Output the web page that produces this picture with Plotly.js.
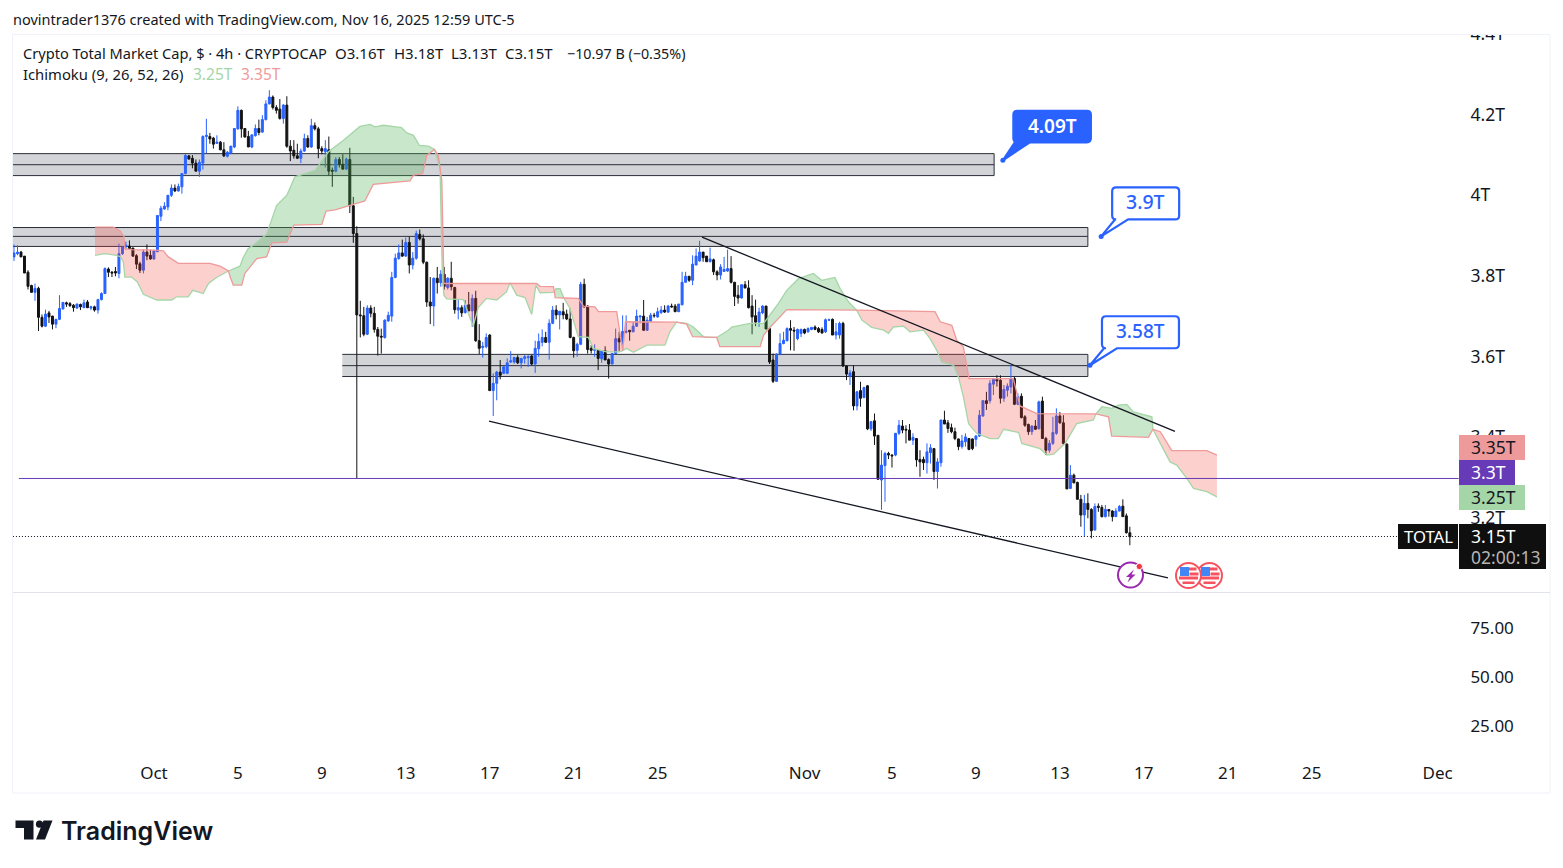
<!DOCTYPE html>
<html><head><meta charset="utf-8">
<script src="https://cdn.plot.ly/plotly-3.0.1.min.js"></script>
<style>html,body{margin:0;padding:0;background:#fff}#c{width:1563px;height:868px}</style></head>
<body><div id="c"></div>
<script>
const FIRST_BAR = Date.UTC(2025,8,24,8,0,0);
const opens=[3.847,3.855,3.859,3.849,3.809,3.776,3.759,3.769,3.697,3.675,
3.708,3.700,3.680,3.692,3.718,3.733,3.731,3.727,3.720,3.729,
3.721,3.735,3.720,3.723,3.715,3.741,3.756,3.817,3.809,3.811,
3.806,3.855,3.872,3.874,3.869,3.850,3.830,3.814,3.859,3.851,
3.842,3.860,3.948,3.966,3.971,4.000,4.018,4.011,4.021,4.054,
4.098,4.092,4.080,4.060,4.080,4.146,4.146,4.142,4.129,4.132,
4.113,4.097,4.105,4.120,4.165,4.211,4.166,4.146,4.120,4.148,
4.166,4.157,4.188,4.227,4.244,4.218,4.214,4.191,4.224,4.122,
4.112,4.098,4.092,4.110,4.141,4.120,4.173,4.165,4.116,4.108,
4.113,4.062,4.060,4.089,4.077,4.065,4.089,3.974,3.905,3.703,
3.701,3.655,3.720,3.707,3.667,3.650,3.647,3.688,3.700,3.796,
3.843,3.857,3.849,3.883,3.827,3.844,3.903,3.892,3.834,3.735,
3.725,3.794,3.783,3.804,3.771,3.794,3.771,3.715,3.721,3.709,
3.728,3.713,3.744,3.639,3.622,3.624,3.653,3.515,3.533,3.561,
3.558,3.558,3.586,3.586,3.597,3.584,3.595,3.597,3.601,3.581,
3.619,3.635,3.647,3.635,3.682,3.715,3.703,3.711,3.705,3.693,
3.647,3.615,3.630,3.779,3.725,3.620,3.615,3.615,3.594,3.614,
3.592,3.581,3.607,3.644,3.636,3.660,3.665,3.661,3.675,3.698,
3.700,3.665,3.687,3.702,3.698,3.709,3.715,3.710,3.725,3.725,
3.711,3.728,3.784,3.799,3.789,3.827,3.837,3.859,3.849,3.835,
3.840,3.810,3.802,3.811,3.812,3.818,3.784,3.752,3.745,3.778,
3.770,3.725,3.701,3.685,3.708,3.725,3.669,3.591,3.538,3.606,
3.632,3.639,3.669,3.665,3.644,3.657,3.667,3.661,3.667,3.673,
3.669,3.667,3.661,3.690,3.692,3.653,3.653,3.682,3.576,3.551,
3.562,3.477,3.515,3.498,3.527,3.420,3.440,3.404,3.293,3.329,
3.359,3.355,3.355,3.409,3.427,3.419,3.417,3.392,3.396,3.344,
3.344,3.336,3.361,3.371,3.314,3.336,3.442,3.435,3.423,3.413,
3.395,3.376,3.388,3.396,3.395,3.394,3.402,3.452,3.490,3.490,
3.531,3.543,3.541,3.496,3.516,3.524,3.545,3.481,3.501,3.450,
3.431,3.413,3.427,3.420,3.489,3.396,3.367,3.384,3.409,3.452,
3.435,3.382,3.272,3.305,3.287,3.245,3.206,3.235,3.220,3.169,
3.228,3.225,3.202,3.220,3.216,3.202,3.216,3.228,3.204,3.162];
const highs=[3.878,3.876,3.862,3.849,3.814,3.778,3.781,3.773,3.704,3.716,
3.713,3.701,3.693,3.752,3.735,3.736,3.735,3.730,3.731,3.731,
3.741,3.740,3.726,3.726,3.743,3.759,3.821,3.821,3.812,3.822,
3.880,3.873,3.885,3.888,3.870,3.854,3.835,3.865,3.878,3.865,
3.864,3.950,3.974,3.983,4.000,4.027,4.027,4.029,4.054,4.102,
4.100,4.100,4.089,4.089,4.149,4.190,4.155,4.145,4.149,4.135,
4.132,4.110,4.123,4.167,4.221,4.213,4.166,4.160,4.152,4.176,
4.188,4.199,4.236,4.261,4.248,4.224,4.239,4.227,4.246,4.137,
4.137,4.128,4.116,4.153,4.149,4.190,4.181,4.170,4.122,4.137,
4.146,4.069,4.095,4.095,4.102,4.094,4.118,3.996,3.923,3.738,
3.723,3.727,3.727,3.723,3.673,3.669,3.692,3.711,3.810,3.855,
3.878,3.890,3.895,3.897,3.859,3.912,3.915,3.903,3.835,3.797,
3.796,3.822,3.814,3.822,3.797,3.835,3.773,3.741,3.727,3.740,
3.760,3.754,3.763,3.680,3.636,3.657,3.655,3.558,3.564,3.591,
3.576,3.595,3.613,3.599,3.603,3.595,3.603,3.603,3.603,3.639,
3.657,3.667,3.661,3.692,3.725,3.727,3.713,3.733,3.716,3.719,
3.649,3.634,3.785,3.793,3.727,3.628,3.630,3.617,3.615,3.625,
3.595,3.609,3.669,3.661,3.702,3.702,3.665,3.686,3.716,3.702,
3.740,3.698,3.708,3.708,3.721,3.725,3.727,3.728,3.731,3.730,
3.730,3.810,3.810,3.799,3.851,3.868,3.887,3.859,3.849,3.870,
3.843,3.814,3.829,3.847,3.865,3.849,3.785,3.777,3.779,3.787,
3.789,3.752,3.741,3.721,3.727,3.725,3.669,3.607,3.607,3.657,
3.661,3.672,3.690,3.673,3.669,3.669,3.669,3.672,3.673,3.677,
3.673,3.672,3.694,3.694,3.694,3.683,3.686,3.686,3.578,3.566,
3.578,3.514,3.537,3.524,3.529,3.438,3.458,3.404,3.367,3.363,
3.363,3.357,3.409,3.442,3.442,3.429,3.432,3.409,3.396,3.367,
3.351,3.384,3.382,3.371,3.347,3.442,3.465,3.442,3.433,3.423,
3.396,3.405,3.409,3.396,3.396,3.405,3.467,3.491,3.512,3.541,
3.545,3.553,3.553,3.529,3.533,3.578,3.549,3.508,3.508,3.454,
3.433,3.429,3.442,3.490,3.500,3.400,3.392,3.450,3.471,3.462,
3.454,3.384,3.330,3.309,3.289,3.256,3.256,3.260,3.223,3.235,
3.235,3.231,3.231,3.220,3.218,3.223,3.231,3.245,3.210,3.177];
const lows=[3.837,3.851,3.847,3.807,3.766,3.759,3.738,3.663,3.672,3.673,
3.683,3.667,3.670,3.690,3.716,3.723,3.723,3.711,3.718,3.715,
3.720,3.720,3.715,3.711,3.706,3.739,3.756,3.797,3.797,3.799,
3.794,3.852,3.865,3.865,3.847,3.817,3.807,3.806,3.839,3.840,
3.840,3.859,3.936,3.964,3.963,3.996,4.008,4.009,4.004,4.052,
4.089,4.067,4.060,4.046,4.064,4.105,4.128,4.116,4.128,4.112,
4.095,4.094,4.102,4.117,4.163,4.143,4.143,4.120,4.117,4.146,
4.149,4.155,4.186,4.226,4.213,4.203,4.188,4.178,4.118,4.085,
4.091,4.090,4.080,4.108,4.118,4.118,4.161,4.092,4.102,4.069,
4.050,4.021,4.057,4.069,4.065,4.064,3.956,3.882,3.298,3.647,
3.650,3.653,3.697,3.659,3.602,3.607,3.644,3.686,3.686,3.794,
3.840,3.847,3.847,3.806,3.816,3.840,3.888,3.829,3.723,3.680,
3.675,3.756,3.773,3.766,3.766,3.764,3.706,3.692,3.698,3.706,
3.713,3.673,3.636,3.606,3.597,3.620,3.515,3.452,3.491,3.543,
3.556,3.556,3.584,3.582,3.581,3.570,3.582,3.574,3.578,3.559,
3.599,3.625,3.634,3.592,3.680,3.692,3.667,3.692,3.690,3.645,
3.597,3.599,3.628,3.721,3.607,3.607,3.599,3.566,3.584,3.591,
3.545,3.581,3.606,3.614,3.614,3.657,3.639,3.660,3.673,3.682,
3.663,3.663,3.686,3.696,3.696,3.705,3.708,3.708,3.721,3.710,
3.710,3.727,3.783,3.785,3.777,3.826,3.835,3.835,3.835,3.834,
3.802,3.789,3.791,3.810,3.810,3.781,3.725,3.731,3.744,3.769,
3.719,3.655,3.675,3.673,3.705,3.668,3.581,3.534,3.537,3.603,
3.630,3.637,3.615,3.614,3.640,3.648,3.655,3.659,3.665,3.665,
3.658,3.657,3.658,3.688,3.653,3.642,3.644,3.574,3.541,3.529,
3.466,3.466,3.475,3.496,3.417,3.415,3.380,3.293,3.219,3.239,
3.345,3.324,3.352,3.405,3.409,3.384,3.392,3.380,3.326,3.301,
3.318,3.309,3.334,3.293,3.272,3.326,3.432,3.410,3.409,3.392,
3.367,3.371,3.376,3.367,3.367,3.376,3.400,3.450,3.467,3.483,
3.504,3.525,3.483,3.487,3.500,3.508,3.479,3.479,3.446,3.425,
3.405,3.405,3.417,3.419,3.396,3.355,3.361,3.380,3.405,3.433,
3.380,3.270,3.272,3.285,3.245,3.177,3.152,3.198,3.148,3.167,
3.214,3.200,3.200,3.202,3.190,3.202,3.215,3.202,3.160,3.131];
const closes=[3.857,3.859,3.847,3.807,3.774,3.759,3.769,3.697,3.675,3.705,
3.698,3.680,3.692,3.719,3.734,3.730,3.726,3.721,3.730,3.723,
3.733,3.721,3.723,3.715,3.741,3.756,3.818,3.809,3.807,3.807,
3.855,3.872,3.876,3.868,3.849,3.829,3.814,3.859,3.849,3.842,
3.862,3.950,3.968,3.973,4.000,4.018,4.011,4.022,4.054,4.099,
4.090,4.080,4.060,4.082,4.146,4.149,4.140,4.127,4.132,4.113,
4.098,4.107,4.122,4.166,4.211,4.165,4.145,4.120,4.150,4.166,
4.156,4.188,4.227,4.244,4.218,4.211,4.191,4.224,4.122,4.110,
4.098,4.092,4.110,4.141,4.120,4.173,4.165,4.116,4.110,4.116,
4.060,4.060,4.089,4.077,4.065,4.090,3.974,3.905,3.703,3.701,
3.655,3.720,3.707,3.667,3.650,3.648,3.690,3.702,3.796,3.844,
3.857,3.849,3.883,3.827,3.844,3.905,3.892,3.834,3.735,3.725,
3.794,3.783,3.804,3.774,3.794,3.773,3.716,3.721,3.708,3.727,
3.713,3.744,3.639,3.620,3.625,3.647,3.515,3.533,3.561,3.553,
3.574,3.584,3.589,3.597,3.584,3.595,3.599,3.599,3.581,3.620,
3.637,3.647,3.635,3.682,3.715,3.703,3.712,3.703,3.693,3.647,
3.614,3.630,3.779,3.723,3.617,3.615,3.617,3.595,3.614,3.591,
3.581,3.607,3.644,3.636,3.662,3.662,3.661,3.675,3.700,3.700,
3.665,3.690,3.702,3.701,3.711,3.715,3.710,3.725,3.723,3.711,
3.730,3.784,3.799,3.789,3.829,3.849,3.859,3.845,3.835,3.842,
3.810,3.802,3.822,3.816,3.818,3.784,3.749,3.745,3.778,3.770,
3.721,3.698,3.685,3.710,3.725,3.668,3.586,3.538,3.606,3.632,
3.640,3.669,3.665,3.663,3.667,3.667,3.658,3.669,3.672,3.667,
3.661,3.658,3.691,3.691,3.653,3.661,3.682,3.576,3.556,3.559,
3.477,3.512,3.496,3.523,3.420,3.438,3.402,3.295,3.330,3.359,
3.355,3.353,3.409,3.429,3.417,3.417,3.392,3.399,3.343,3.338,
3.336,3.363,3.373,3.314,3.338,3.442,3.432,3.421,3.413,3.396,
3.376,3.390,3.400,3.369,3.371,3.402,3.454,3.490,3.483,3.533,
3.543,3.539,3.496,3.518,3.526,3.545,3.481,3.500,3.448,3.429,
3.413,3.427,3.419,3.487,3.396,3.367,3.384,3.411,3.452,3.435,
3.384,3.271,3.305,3.286,3.245,3.206,3.235,3.220,3.167,3.227,
3.225,3.202,3.220,3.216,3.202,3.216,3.227,3.202,3.162,3.152];

// Ichimoku lead lines: bar number, value
const spanABars=[24.16,27,30.35,31.5,32.26,32.7,34.6,36.26,38,41.8,46.1,47.5,50.8,52.1,55.1,56.6,58.9,62.3,65.6,66.6,68,69.4,73.2,74.7,76.1,79,81.3,87.1,90.9,95.2,99.9,102.8,104.2,106.6,111.8,113.3,115.2,116.9,119.5,121.2,122.8,123.4,123.9,124.7,129.5,130.9,132.3,133.7,136.1,139,141.8,142.8,144.7,147.1,149,150.2,151.4,155.2,155.5,155.95,157.1,158.2,159.95,162.3,165.2,166.6,170.4,174.1,175,176.1,178.1,181.9,187.1,188.5,190.4,193.3,195.2,197.6,198.5,201.9,205.2,206.2,211.4,215.3,216.7,219.5,221.9,225.3,229.5,231.9,235.7,237.2,239.6,241.9,243.4,246.2,249.6,251,252.4,255.3,257.2,261,262.9,264.8,266.2,269.6,271,272.4,273.9,276.2,280,282.4,283.9,288.2,289.1,294.3,296.3,298.2,301.5,304.8,309.6,310.3,312,314.8,316.7,319.1,321,326.3,326.6,327.2,328.7,331.5,333.4,336.3,338.2,342,344.9];
const spanA=[3.851,3.855,3.851,3.847,3.835,3.797,3.797,3.785,3.754,3.74,3.74,3.748,3.748,3.764,3.756,3.781,3.796,3.812,3.824,3.847,3.868,3.876,3.903,3.938,3.975,4,4.046,4.062,4.108,4.137,4.171,4.176,4.17,4.174,4.168,4.155,4.149,4.124,4.122,4.114,4.066,3.82,3.752,3.743,3.741,3.706,3.675,3.721,3.744,3.74,3.76,3.783,3.752,3.746,3.704,3.777,3.758,3.759,3.76,3.768,3.768,3.745,3.719,3.649,3.647,3.62,3.611,3.611,3.614,3.62,3.61,3.628,3.628,3.661,3.685,3.682,3.673,3.653,3.647,3.647,3.665,3.673,3.682,3.682,3.698,3.731,3.764,3.793,3.806,3.789,3.796,3.768,3.735,3.715,3.69,3.672,3.665,3.657,3.673,3.675,3.661,3.665,3.644,3.615,3.586,3.578,3.549,3.5,3.433,3.409,3.396,3.396,3.419,3.411,3.384,3.371,3.355,3.357,3.384,3.433,3.442,3.457,3.475,3.471,3.479,3.481,3.462,3.45,3.419,3.409,3.384,3.338,3.33,3.297,3.272,3.264,3.251];
const spanBBars=[24.16,29.4,31.3,32.4,32.7,34.4,41.8,43.7,45.1,48,57,59.9,62.3,62.8,63.7,66.1,67,68.9,70.4,73.2,74.7,79,81,89,90.2,92.8,101.3,103.7,114.2,115.2,117.8,119,121.2,122.3,123.3,123.9,150.4,151.4,155.2,155.5,155.7,158.2,162.3,163.8,167.1,168.1,173.3,175,175.8,190.4,193.3,195,201.9,202.8,214.3,215.3,217.2,219.1,221.9,241.9,264.3,265.8,269.1,270.5,272.4,274,286.7,288.6,293.4,310.3,313.9,314.8,325.3,326.6,328.7,332,342,344.9];
const spanB=[3.921,3.921,3.912,3.898,3.868,3.865,3.864,3.862,3.847,3.831,3.831,3.824,3.812,3.797,3.777,3.777,3.806,3.826,3.843,3.847,3.882,3.884,3.926,3.928,3.961,3.964,3.986,4.027,4.036,4.05,4.054,4.099,4.114,4.099,4.037,3.781,3.781,3.774,3.773,3.76,3.746,3.745,3.744,3.725,3.723,3.711,3.711,3.614,3.686,3.685,3.68,3.649,3.647,3.624,3.624,3.653,3.673,3.69,3.716,3.715,3.711,3.686,3.677,3.64,3.624,3.545,3.545,3.477,3.458,3.457,3.45,3.402,3.399,3.419,3.413,3.366,3.366,3.355];
// Stretches of the cloud between crossings of the two lead lines
const cloudStart=[24.16,62.3,121.2,155.5,158.2,190.4,241.9,310.3,326.6];
const cloudEnd=[62.3,121.2,155.5,158.2,190.4,241.9,310.3,326.6,344.9];
const cloudBull=[false,true,false,true,false,true,false,true,false];

// Grey zones
const zoneFrom=[0.7,0.7,94.85];
const zoneTo=[281.2,308,308];
const zoneTop=[4.1035,3.920,3.605];
const zoneMid=[4.076,3.898,3.577];
const zoneBottom=[4.049,3.873,3.550];

// Trend lines
const trendBars=[[197.7,332.9],[136.8,330.9]];
const trendValues=[[3.896,3.414],[3.439,3.050]];

// Horizontal levels
const levelPurple=3.2968, lastClose=3.1527;
const priceTicks=[3.2,3.4,3.6,3.8,4.0,4.2,4.4];
const priceTickText=['3.2T','3.4T','3.6T','3.8T','4T','4.2T','4.4T'];
const lowerTicks=[25,50,75];
const lowerTickText=['25.00','50.00','75.00'];
const dateTicks=['2025-10-01','2025-10-05','2025-10-09','2025-10-13','2025-10-17','2025-10-21','2025-10-25','2025-11-01','2025-11-05 04:00','2025-11-09 04:00','2025-11-13 04:00','2025-11-17 04:00','2025-11-21 04:00','2025-11-25 04:00','2025-12-01 04:00'];
const dateTickText=['Oct','5','9','13','17','21','25','Nov','5','9','13','17','21','25','Dec'];

// Callouts
const calloutLabels=['4.09T','3.9T','3.58T'];
const calloutBars=[283.7,311.8,308.6];
const calloutValues=[4.087,3.898,3.578];

const FONT='"Noto Sans", sans-serif', INK='#131722', BLUE='#2962FF';
const barDate=n=>new Date(FIRST_BAR+(n-1)*4*3600*1000).toISOString().replace('Z','');
const dates=opens.map((_,i)=>barDate(i+1));
// page-pixel helpers for chrome (frame, badges, icons)
const L=13,R=1459,T=34,B=757;
const px=x=>(x-L)/(R-L), py=y=>(B-y)/(B-T);

const traces=[];
cloudStart.forEach((s,k)=>{
  const e=cloudEnd[k];
  const ax=[],ay=[],bx=[],by=[];
  spanABars.forEach((n,i)=>{if(n>=s&&n<=e){ax.push(barDate(n));ay.push(spanA[i]);}});
  spanBBars.forEach((n,i)=>{if(n>=s&&n<=e){bx.push(barDate(n));by.push(spanB[i]);}});
  traces.push({type:'scatter',mode:'lines',x:ax.concat(bx.reverse()),y:ay.concat(by.reverse()),fill:'toself',
    fillcolor:cloudBull[k]?'rgba(76,175,80,0.3)':'rgba(244,67,54,0.25)',line:{width:0},hoverinfo:'skip',showlegend:false});
});
traces.push({type:'scatter',mode:'lines',x:spanABars.map(barDate),y:spanA,line:{color:'#A5D6A7',width:1.3},hoverinfo:'skip',showlegend:false});
traces.push({type:'scatter',mode:'lines',x:spanBBars.map(barDate),y:spanB,line:{color:'#EF9A9A',width:1.3},hoverinfo:'skip',showlegend:false});
trendBars.forEach((b,i)=>traces.push({type:'scatter',mode:'lines',x:b.map(barDate),y:trendValues[i],line:{color:INK,width:1.3},hoverinfo:'skip',showlegend:false}));
traces.push({type:'scatter',mode:'lines',x:[barDate(2.4),barDate(414)],y:[levelPurple,levelPurple],line:{color:'#673AB7',width:1},hoverinfo:'skip',showlegend:false});
traces.push({type:'scatter',mode:'lines',x:[barDate(0.7),barDate(414)],y:[lastClose,lastClose],line:{color:INK,width:1,dash:'1px 2px'},hoverinfo:'skip',showlegend:false});
traces.push({type:'candlestick',x:dates,open:opens,high:highs,low:lows,close:closes,whiskerwidth:0,
  increasing:{line:{color:BLUE,width:1},fillcolor:BLUE},decreasing:{line:{color:'#131313',width:1},fillcolor:'#131313'},hoverinfo:'skip',showlegend:false});
traces.push({type:'scatter',mode:'markers',x:calloutBars.map(barDate),y:calloutValues,marker:{color:BLUE,size:5},hoverinfo:'skip',showlegend:false,cliponaxis:false});
traces.push({type:'scatter',mode:'markers',x:[dates[0]],y:[50],yaxis:'y2',marker:{opacity:0,size:1},hoverinfo:'skip',showlegend:false});

const shapes=[];
zoneFrom.forEach((f,i)=>{
  const x0=barDate(f),x1=barDate(zoneTo[i]);
  shapes.push({type:'rect',layer:'below',xref:'x',yref:'y',x0,x1,y0:zoneBottom[i],y1:zoneTop[i],fillcolor:'rgba(120,123,134,0.33)',line:{width:0}});
  [zoneTop[i],zoneMid[i],zoneBottom[i]].forEach(v=>shapes.push({type:'line',layer:'below',xref:'x',yref:'y',x0,x1,y0:v,y1:v,line:{color:'#2A2E39',width:1}}));
  shapes.push({type:'line',layer:'below',xref:'x',yref:'y',x0:x1,x1:x1,y0:zoneBottom[i],y1:zoneTop[i],line:{color:'#2A2E39',width:1}});
});
// Speech-bubble callouts, positioned on their data point with pixel offsets
function bubble(l,r,b,t,wl,wr){const c=4;
 return `M 0 0 L ${wl} ${b} L ${l+c} ${b} Q ${l} ${b} ${l} ${b+c} L ${l} ${t-c} Q ${l} ${t} ${l+c} ${t} L ${r-c} ${t} Q ${r} ${t} ${r} ${t-c} L ${r} ${b+c} Q ${r} ${b} ${r-c} ${b} L ${wr} ${b} Z`;}
const bubbles=[[10.5,88,18,49.5,12,27,BLUE],[11,78,17,49,14,27,'#fff'],[12,89,17,49,14,27,'#fff']];
bubbles.forEach((q,i)=>shapes.push({type:'path',layer:'above',xsizemode:'pixel',ysizemode:'pixel',xref:'x',yref:'y',
  xanchor:barDate(calloutBars[i]),yanchor:calloutValues[i],path:bubble(q[0],q[1],q[2],q[3],q[4],q[5]),fillcolor:q[6],line:{color:BLUE,width:2.2}}));

function rectP(x0,y0,x1,y1,fill,extra){return Object.assign({type:'rect',layer:'above',xref:'paper',yref:'paper',x0:px(x0),x1:px(x1),y0:py(y1),y1:py(y0),fillcolor:fill,line:{width:0}},extra||{});}
function lineP(x0,y0,x1,y1,c){return {type:'line',layer:'above',xref:'paper',yref:'paper',x0:px(x0),x1:px(x1),y0:py(y0),y1:py(y1),line:{color:c,width:1}};}
function circP(cx,cy,r,fill,stroke,w){return {type:'circle',layer:'above',xref:'paper',yref:'paper',x0:px(cx-r),x1:px(cx+r),y0:py(cy+r),y1:py(cy-r),fillcolor:fill,line:{color:stroke,width:w}};}
function pathP(pts,fill){return {type:'path',layer:'above',xref:'paper',yref:'paper',path:'M '+pts.map(p=>px(p[0])+' '+py(p[1])).join(' L ')+' Z',fillcolor:fill,line:{width:0}};}
// hide the upper part of the clipped top tick, frame
shapes.push(rectP(1459,0,1563,34.5,'#fff'));
shapes.push(lineP(13,34.5,1550,34.5,'#EFF2F8'),lineP(12.5,34.5,12.5,793,'#EFF2F8'),lineP(1550,34.5,1550,793,'#EFF2F8'),lineP(12.5,793,1550,793,'#EFF2F8'),lineP(13,592.5,1550,592.5,'#E0E3EB'));
// axis badges
shapes.push(rectP(1459,435,1525,460,'#EF9A9A'),rectP(1459,460,1515,485,'#673AB7'),rectP(1459,485,1525,510,'#A5D6A7'),rectP(1459,524,1546,569,'#0F0F0F'),rectP(1398,524,1458,549,'#0F0F0F'));
// flash + flag icons
function flag(cx,cy){const out=[circP(cx,cy,12.5,'#fff','#F7525F',2)];
 out.push(rectP(cx-1,cy-8,cx+8,cy-5,'#F7525F'),rectP(cx+1,cy-3,cx+10,cy,'#F7525F'),rectP(cx-9.5,cy+1,cx+9.5,cy+4,'#F7525F'),rectP(cx-6,cy+6,cx+6,cy+8.5,'#F7525F'),rectP(cx-8.5,cy-8.5,cx+0.5,cy+0.5,'#4285F4'));return out;}
shapes.push(...flag(1209.5,575.5),...flag(1188.5,575.5));
shapes.push(circP(1130.5,575,12.5,'#fff','#9C27B0',2));
shapes.push(pathP([[1134,569.5],[1126,577],[1129.8,577],[1127.5,582.5],[1135.5,574.5],[1131.5,574.5]],'#9C27B0'));
shapes.push(circP(1139.3,566.5,3.2,'#F23645','#fff',1));
// TradingView mark
shapes.push(pathP([[15.5,820.5],[33.5,820.5],[33.5,839.5],[24,839.5],[24,828],[15.5,828]],'#131722'));
shapes.push(circP(39.5,824.2,3.6,'#131722','#131722',0));
shapes.push(pathP([[52.5,820.5],[45,839.5],[36,839.5],[43.5,820.5]],'#131722'));

function txt(t,x,y,size,color,anchor,weight,fam){return {text:t,xref:'paper',yref:'paper',x:px(x),y:py(y),xanchor:anchor||'left',yanchor:'middle',showarrow:false,
  font:{family:fam||FONT,size:size,color:color||INK,weight:weight||400},borderpad:0,bgcolor:'rgba(0,0,0,0)'};}
const annotations=[
 txt('novintrader1376 created with TradingView.com, Nov 16, 2025 12:59 UTC-5',12,19,14.5),
 txt('Crypto Total Market Cap, $ · 4h · CRYPTOCAP',22,53,14.6),
 txt('O3.16T',334,53,15),txt('H3.18T',393,53,15),txt('L3.13T',450,53,15),txt('C3.15T',504,53,15),
 txt('−10.97 B (−0.35%)',566,53,14.3),
 txt('Ichimoku (9, 26, 52, 26)',22,74,14.8),
 txt('3.25T',192,74,15.5,'#A5D6A7'),txt('3.35T',240,74,15.5,'#EF9A9A'),
 txt('4.09T',1052,125.5,19,'#fff','center',600),txt('3.9T',1145.5,201.5,19.5,BLUE,'center',500),txt('3.58T',1140.5,330.5,19,BLUE,'center',500),
 txt('3.35T',1470,447,17.5),txt('3.3T',1470,472,17.5,'#fff'),txt('3.25T',1470,497,17.5),
 txt('TOTAL',1403,536,16.7,'#fff'),txt('3.15T',1470,536,17.5,'#fff'),txt('02:00:13',1470,557,17.5,'#B5B5B5'),
 txt('TradingView',60,831,25,'#131722','left',600,'Inter, sans-serif')
];

const layout={width:1563,height:868,margin:{l:L,r:1563-R,t:T,b:868-B,pad:0},paper_bgcolor:'#fff',plot_bgcolor:'rgba(0,0,0,0)',showlegend:false,hovermode:false,dragmode:false,
 boxgap:0.25,boxgroupgap:0.25,
 font:{family:FONT,color:INK,size:16},
 xaxis:{type:'date',anchor:'y2',range:[barDate(0.714),barDate(414.1)],tickmode:'array',tickvals:dateTicks,ticktext:dateTickText,ticks:'outside',ticklen:1,tickcolor:'rgba(0,0,0,0)',showgrid:false,zeroline:false,showline:false,rangeslider:{visible:false},tickangle:0,tickfont:{family:FONT,size:17,color:INK}},
 yaxis:{domain:[(B-592)/(B-T),1],range:[4-(592-195)/403,4.4006],side:'right',anchor:'x',tickmode:'array',tickvals:priceTicks,ticktext:priceTickText,ticks:'outside',ticklen:7,tickcolor:'rgba(0,0,0,0)',showgrid:false,zeroline:false,showline:false,tickfont:{family:FONT,size:17.5,color:INK}},
 yaxis2:{domain:[0,(B-593)/(B-T)],range:[25-(B-726)/1.96,75+(628-593)/1.96],side:'right',anchor:'x',tickmode:'array',tickvals:lowerTicks,ticktext:lowerTickText,ticks:'outside',ticklen:7,tickcolor:'rgba(0,0,0,0)',showgrid:false,zeroline:false,showline:false,tickfont:{family:FONT,size:17,color:INK}},
 shapes,annotations};
Plotly.newPlot('c',traces,layout,{staticPlot:true,displayModeBar:false});
</script></body></html>
